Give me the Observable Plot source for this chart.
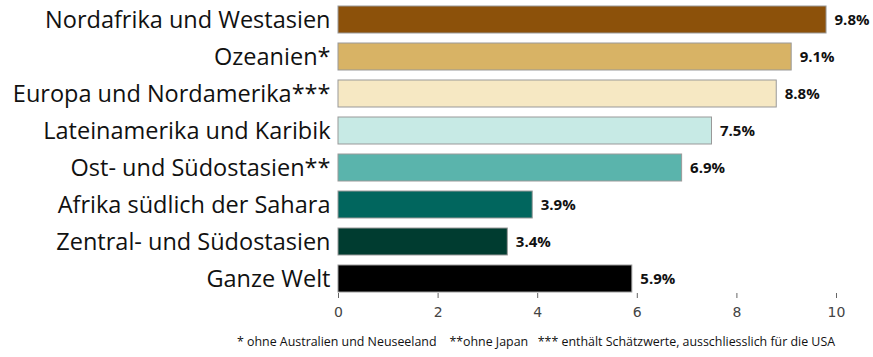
<!DOCTYPE html>
<html>
<head>
<meta charset="utf-8">
<script src="https://cdn.jsdelivr.net/npm/d3@7"></script>
<script src="https://cdn.jsdelivr.net/npm/@observablehq/plot@0.6"></script>
<style>
  body { margin: 0; background: #fff; font-family: "Open Sans", sans-serif; }
  #caption { font-family: "Open Sans", sans-serif; font-size: 12.4px; color: #111; margin-left: 237px; margin-top: 10px; white-space: pre; }
</style>
</head>
<body>
<div id="chart"></div>
<div id="caption">* ohne Australien und Neuseeland    **ohne Japan   *** enthält Schätzwerte, ausschliesslich für die USA</div>
<script>
const regions = ["Nordafrika und Westasien", "Ozeanien*", "Europa und Nordamerika***", "Lateinamerika und Karibik", "Ost- und Südostasien**", "Afrika südlich der Sahara", "Zentral- und Südostasien", "Ganze Welt"];
const values = [9.8, 9.1, 8.8, 7.5, 6.9, 3.9, 3.4, 5.9];
const colors = ["#8c510a", "#d8b365", "#f6e8c3", "#c7eae5", "#5ab4ac", "#01665e", "#003c30", "#000000"];
const xTicks = [0, 2, 4, 6, 8, 10];

const data = regions.map((r, i) => ({region: r, value: values[i], color: colors[i]}));

const chart = Plot.plot({
  width: 873,
  height: 323,
  marginTop: 0,
  marginBottom: 25,
  marginLeft: 338,
  marginRight: 37,
  x: {domain: [0, 10], ticks: xTicks},
  y: {domain: regions, paddingInner: 0.27, paddingOuter: 0.135},
  marks: [
    Plot.barX(data, {x: "value", y: "region", fill: "color", stroke: "#999", strokeWidth: 1}),
    Plot.text(data, {x: "value", y: "region", text: d => d.value.toFixed(1) + "%", textAnchor: "start", dx: 8, fontWeight: "bold", fontSize: 15, fill: "#111", fontFamily: "Open Sans"}),
    Plot.axisX({ticks: xTicks, tickSize: -5, tickPadding: 14, line: true, stroke: "#666", fontSize: 14, fontFamily: "DejaVu Sans", fontStretch: "condensed", fill: "#444", label: null}),
    Plot.axisY({tickSize: 0, tickPadding: 8, line: true, stroke: "#666", fontSize: 23.5, fontFamily: "Open Sans", fill: "#111", label: null})
  ]
});
document.getElementById("chart").appendChild(chart);
</script>
</body>
</html>
